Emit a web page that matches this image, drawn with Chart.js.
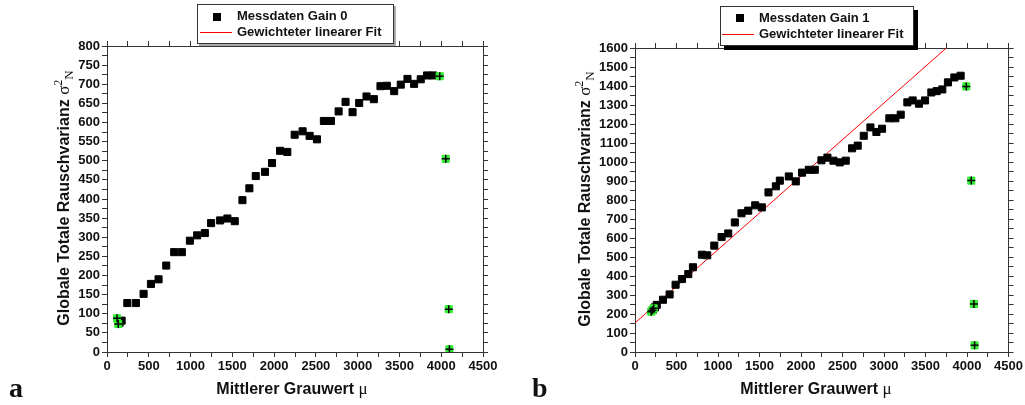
<!DOCTYPE html>
<html>
<head>
<meta charset="utf-8">
<script src="https://cdn.jsdelivr.net/npm/chart.js@4.4.1/dist/chart.umd.min.js"></script>
<style>
  body { margin: 0; background: #fff; }
  #page { position: relative; width: 1025px; height: 405px; overflow: hidden; font-family: "Liberation Sans", Arial, sans-serif; color: #111; }
  canvas { position: absolute; top: 0; }
  #chartA { left: 0; }
  #chartB { left: 512px; }
  .legend { position: absolute; background: #fff; border: 1px solid #333; font-size: 13px; font-weight: bold; }
  .legend .row { position: absolute; left: 0; white-space: nowrap; }
  .legend .sq { position: absolute; width: 8px; height: 8px; background: #000; }
  .legend .ln { position: absolute; height: 1px; background: #f00; }
  .ytitle { position: absolute; width: 320px; height: 20px; line-height: 20px; text-align: center; font-size: 16px; font-weight: bold; transform: rotate(-90deg); white-space: nowrap; }
  .xtitle { position: absolute; width: 240px; text-align: center; font-size: 16px; font-weight: bold; white-space: nowrap; }
  .serif { font-family: "Liberation Serif", "DejaVu Serif", serif; font-size: 17px; font-weight: normal; }
  .panel { position: absolute; font-family: "Liberation Serif", "DejaVu Serif", serif; font-weight: bold; font-size: 28px; }
</style>
</head>
<body>
<div id="page">
  <canvas id="chartA" width="512" height="405"></canvas>
  <canvas id="chartB" width="513" height="405"></canvas>

  <div class="legend" style="left:197px; top:4px; width:195px; height:38px; box-shadow:2px 2px 0 #aaa;">
    <div class="sq" style="left:15px; top:8px;"></div>
    <div class="row" style="left:39px; top:3px;">Messdaten Gain 0</div>
    <div class="ln" style="left:2px; top:27px; width:32px;"></div>
    <div class="row" style="left:39px; top:19px;">Gewichteter linearer Fit</div>
  </div>
  <div class="legend" style="left:720px; top:6px; width:192px; height:38px; box-shadow:4px 4px 0 #000;">
    <div class="sq" style="left:15px; top:7px;"></div>
    <div class="row" style="left:38px; top:3px;">Messdaten Gain 1</div>
    <div class="ln" style="left:1px; top:27px; width:32px;"></div>
    <div class="row" style="left:38px; top:19px;">Gewichteter linearer Fit</div>
  </div>

  <div class="ytitle" style="left:-102px; top:188px;">Globale Totale Rauschvarianz <span class="serif">σ<sup style="font-size:12px">2</sup><sub style="font-size:13px">N</sub></span></div>
  <div class="ytitle" style="left:419px; top:189px;">Globale Totale Rauschvarianz <span class="serif">σ<sup style="font-size:12px">2</sup><sub style="font-size:13px">N</sub></span></div>

  <div class="xtitle" style="left:172px; top:379px;">Mittlerer Grauwert <span class="serif">μ</span></div>
  <div class="xtitle" style="left:696px; top:379px;">Mittlerer Grauwert <span class="serif">μ</span></div>

  <div class="panel" style="left:9px; top:372px;">a</div>
  <div class="panel" style="left:532px; top:372px;">b</div>
</div>
<script>
// Gain 0 measurements
const gain0X = [150, 175, 243, 346, 438, 526, 617, 709, 804, 896, 992, 1079, 1171, 1246, 1354, 1441, 1529,
  1621, 1704, 1780, 1891, 1975, 2071, 2158, 2246, 2341, 2425, 2513, 2596, 2680, 2772, 2855, 2939, 3018,
  3106, 3194, 3273, 3349, 3437, 3516, 3596, 3675, 3755, 3831, 3903];
const gain0Y = [76, 82, 128, 128, 152, 178, 190, 226, 261, 261, 291, 305, 311, 337, 344, 349, 342,
  397, 428, 460, 471, 494, 526, 523, 568, 577, 565, 556, 604, 604, 629, 654, 627, 651,
  668, 661, 695, 696, 682, 699, 714, 701, 713, 723, 723];
// Gain 0 points excluded from the fit (green)
const gain0OutX = [120, 135, 3982, 4054, 4090, 4098];
const gain0OutY = [88, 73, 721, 505, 112, 7];

// Gain 1 measurements
const gain1X = [215, 240, 262, 337, 417, 489, 566, 642, 698, 806, 870, 955, 1043, 1123, 1203, 1283, 1364,
  1448, 1528, 1608, 1697, 1745, 1853, 1937, 2013, 2094, 2166, 2246, 2318, 2391, 2467, 2539, 2615, 2683,
  2756, 2836, 2908, 2976, 3064, 3137, 3201, 3281, 3345, 3421, 3494, 3570, 3634, 3702, 3770, 3847, 3923];
const gain1Y = [222, 235, 248, 275, 303, 354, 384, 410, 446, 512, 509, 560, 605, 624, 682, 730, 744,
  772, 761, 840, 872, 902, 924, 898, 944, 959, 959, 1009, 1023, 1007, 998, 1007, 1072, 1086,
  1138, 1182, 1158, 1175, 1230, 1230, 1249, 1314, 1324, 1307, 1324, 1366, 1373, 1382, 1419, 1445, 1454];
const gain1OutX = [195, 210, 225, 3991, 4051, 4083, 4091];
const gain1OutY = [212, 220, 230, 1398, 902, 253, 35];

// weighted linear fit (gain 1)
const fitX = [0, 3750];
const fitY = [153, 1600];

const xMax = 4500;
const yMaxA = 800;
const yMaxB = 1600;

function pts(xs, ys) {
  return xs.map((x, i) => ({ x: x, y: ys[i] }));
}

function makeDatasets(mx, my, ox, oy, fx, fy) {
  const sets = [
    {
      data: pts(ox, oy), pointStyle: "cross", pointRadius: 4, borderColor: "#000",
      borderWidth: 1.5, showLine: false, order: 0,
    },
    {
      data: pts(ox, oy), pointStyle: "rect", pointRadius: 5, backgroundColor: "#33ee33",
      borderColor: "#33ee33", borderWidth: 1, showLine: false, order: 1,
    },
    {
      data: pts(mx, my), pointStyle: "rect", pointRadius: 5, backgroundColor: "#000",
      borderColor: "#000", borderWidth: 1, showLine: false, order: 2,
    },
  ];
  if (fx) {
    sets.push({
      data: pts(fx, fy), showLine: true, pointRadius: 0, borderColor: "#f00",
      borderWidth: 1, order: 3,
    });
  }
  return sets;
}

function makeOptions(yMax, yStep, yLabelStep, box) {
  const fix = (size) => (scale) => {
    if (scale.isHorizontal()) scale.height = size;
    else scale.width = size;
  };
  const grid = { drawOnChartArea: false, tickLength: 5, color: "#333", tickColor: "#333" };
  const border = { display: true, color: "#333", width: 1 };
  const tickFont = { family: "Liberation Sans", size: 13, weight: "bold" };
  return {
    responsive: false,
    animation: false,
    events: [],
    layout: { padding: 0 },
    plugins: { legend: { display: false }, tooltip: { enabled: false } },
    scales: {
      x: {
        type: "linear", position: "bottom", min: 0, max: xMax,
        grid: grid, border: border,
        ticks: {
          stepSize: 250, color: "#111", font: tickFont, padding: 2,
          maxRotation: 0, autoSkip: false,
          callback: (v) => (v % 500 === 0 ? v : ""),
        },
        afterFit: fix(box.bottom),
      },
      x2: {
        type: "linear", position: "top", min: 0, max: xMax,
        grid: grid, border: border,
        ticks: { stepSize: 250, display: false },
        afterFit: fix(box.top),
      },
      y: {
        type: "linear", position: "left", min: 0, max: yMax,
        grid: grid, border: border,
        ticks: {
          stepSize: yStep, color: "#111", font: tickFont, padding: 2,
          autoSkip: false,
          callback: (v) => (v % yLabelStep === 0 ? v : ""),
        },
        afterFit: fix(box.left),
      },
      y2: {
        type: "linear", position: "right", min: 0, max: yMax,
        grid: grid, border: border,
        ticks: { stepSize: yStep, display: false },
        afterFit: fix(box.right),
      },
    },
  };
}

new Chart(document.getElementById("chartA"), {
  type: "scatter",
  data: { datasets: makeDatasets(gain0X, gain0Y, gain0OutX, gain0OutY, null, null) },
  options: makeOptions(yMaxA, 25, 50, { left: 107, right: 29, top: 46, bottom: 53 }),
});

new Chart(document.getElementById("chartB"), {
  type: "scatter",
  data: { datasets: makeDatasets(gain1X, gain1Y, gain1OutX, gain1OutY, fitX, fitY) },
  options: makeOptions(yMaxB, 50, 100, { left: 123, right: 16, top: 48, bottom: 53 }),
});
</script>
</body>
</html>
